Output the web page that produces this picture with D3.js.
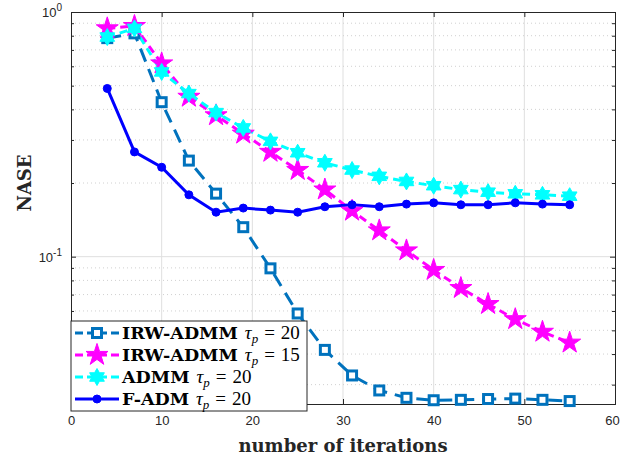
<!DOCTYPE html>
<html lang="en">
<head>
  <meta charset="utf-8">
  <title>NASE vs iterations</title>
  <script src="https://d3js.org/d3.v7.min.js"></script>
  <style>
    body { margin: 0; background: #fff; }
    .tick text { font-family: "Liberation Sans", Arial, sans-serif; font-size: 13px; fill: #262626; }
    .lbl { font-family: "DejaVu Serif", "Liberation Serif", serif; font-weight: bold; fill: #262626; }
    .leg { font-family: "Liberation Serif", serif; font-size: 19px; fill: #000; }
  </style>
</head>
<body>
<div id="container"></div>
<script>
  var w = 621, h = 457;
  var margin = {top: 12, right: 6, bottom: 53, left: 71};

  // data
  var iters = [4, 7, 10, 13, 16, 19, 22, 25, 28, 31, 34, 37, 40, 43, 46, 49, 52, 55];
  var irw20 = [0.782, 0.818, 0.428, 0.247, 0.181, 0.132, 0.0896, 0.0586, 0.0416, 0.0327, 0.0284, 0.0265, 0.0259, 0.0260, 0.0262, 0.0263, 0.0260, 0.0257];
  var irw15 = [0.857, 0.876, 0.616, 0.450, 0.378, 0.318, 0.268, 0.226, 0.188, 0.154, 0.128, 0.106, 0.0882, 0.0744, 0.0640, 0.0555, 0.0493, 0.0445];
  var admm20 = [0.79, 0.857, 0.569, 0.464, 0.388, 0.336, 0.296, 0.266, 0.242, 0.226, 0.213, 0.203, 0.195, 0.188, 0.1835, 0.1807, 0.179, 0.1767];
  var fadm20 = [0.487, 0.268, 0.232, 0.179, 0.152, 0.158, 0.155, 0.152, 0.160, 0.163, 0.160, 0.164, 0.166, 0.163, 0.163, 0.166, 0.164, 0.163];
  var xTicks = [0, 10, 20, 30, 40, 50, 60];
  var yMinor = [0.03, 0.04, 0.05, 0.06, 0.07, 0.08, 0.09, 0.2, 0.3, 0.4, 0.5, 0.6, 0.7, 0.8, 0.9];

  var series = [
    {name: "IRW-ADMM", tau: "20", values: irw20, color: "#0072BD", dash: "14,8", marker: "square"},
    {name: "IRW-ADMM", tau: "15", values: irw15, color: "#FF00FF", dash: "8,5", marker: "pentagram"},
    {name: "ADMM", tau: "20", values: admm20, color: "#00FFFF", dash: "8,5", marker: "hexagram"},
    {name: "F-ADM", tau: "20", values: fadm20, color: "#0000FF", dash: null, marker: "circle"}
  ];

  var iw = w - margin.left - margin.right, ih = h - margin.top - margin.bottom;

  var svg = d3.select("#container").append("svg").attr("width", w).attr("height", h);
  var g = svg.append("g").attr("transform", "translate(" + margin.left + "," + margin.top + ")");

  var x = d3.scaleLinear().domain([0, 60]).range([0, iw]);
  var y = d3.scaleLog().domain([0.025, 1]).range([ih, 0]);

  // grid
  g.selectAll(".gx").data(xTicks.slice(1, -1)).enter().append("line")
    .attr("x1", d => x(d)).attr("x2", d => x(d)).attr("y1", 0).attr("y2", ih)
    .attr("stroke", "#dfdfdf").attr("stroke-width", 1);
  g.selectAll(".gy").data(yMinor).enter().append("line")
    .attr("x1", 0).attr("x2", iw).attr("y1", d => y(d)).attr("y2", d => y(d))
    .attr("stroke", "#d0d0d0").attr("stroke-width", 1).attr("stroke-dasharray", "1,3");
  g.append("line").attr("x1", 0).attr("x2", iw).attr("y1", y(0.1)).attr("y2", y(0.1))
    .attr("stroke", "#dfdfdf").attr("stroke-width", 1);

  // axes
  var axCol = "#262626";
  var xAxis = g.append("g").attr("transform", "translate(0," + ih + ")")
    .call(d3.axisBottom(x).tickValues(xTicks).tickSize(-5).tickPadding(12));
  xAxis.selectAll(".tick text").filter(d => d === 60).attr("dx", -3);
  g.append("g").call(d3.axisTop(x).tickValues(xTicks).tickSize(-5).tickFormat(""));
  g.append("g").call(d3.axisLeft(y).tickValues([0.1, 1]).tickSize(-5).tickFormat(""));
  g.append("g").call(d3.axisLeft(y).tickValues(yMinor).tickSize(-3).tickFormat(""));
  g.append("g").attr("transform", "translate(" + iw + ",0)").call(d3.axisRight(y).tickValues([0.1, 1]).tickSize(-5).tickFormat(""));
  g.append("g").attr("transform", "translate(" + iw + ",0)").call(d3.axisRight(y).tickValues(yMinor).tickSize(-3).tickFormat(""));
  g.selectAll(".domain").attr("stroke", axCol);
  g.selectAll(".tick line").attr("stroke", axCol);

  // y labels as 10^k
  [[1, "0"], [0.1, "-1"]].forEach(function(p) {
    var t = g.append("text").attr("x", -9).attr("y", y(p[0]) + 5)
      .attr("text-anchor", "end")
      .style("font-family", "'Liberation Sans', Arial, sans-serif").style("font-size", "13px").style("fill", axCol);
    t.append("tspan").text("10");
    t.append("tspan").attr("dy", -6).style("font-size", "10px").text(p[1]);
  });

  // lines
  series.forEach(function(s) {
    var line = d3.line().x((d, i) => x(iters[i])).y(d => y(d));
    g.append("path").datum(s.values).attr("d", line)
      .attr("fill", "none").attr("stroke", s.color).attr("stroke-width", 3)
      .attr("stroke-dasharray", s.dash);
  });

  function hexagram(r) {
    var pts = [];
    for (var i = 0; i < 12; i++) {
      var a = Math.PI / 6 * i - Math.PI / 2;
      var rr = i % 2 === 0 ? r : r * 0.577;
      pts.push([rr * Math.cos(a), rr * Math.sin(a)]);
    }
    return "M" + pts.join("L") + "Z";
  }

  function drawMarker(sel, s) {
    if (s.marker === "square") {
      sel.append("rect").attr("x", -4.5).attr("y", -4.5).attr("width", 9).attr("height", 9)
        .attr("fill", "#fff").attr("stroke", s.color).attr("stroke-width", 3);
    } else if (s.marker === "pentagram") {
      sel.append("path").attr("d", d3.symbol().type(d3.symbolStar).size(150)())
        .attr("fill", s.color).attr("stroke", s.color).attr("stroke-width", 1);
    } else if (s.marker === "hexagram") {
      sel.append("path").attr("d", hexagram(8.5))
        .attr("fill", s.color).attr("stroke", s.color).attr("stroke-width", 1);
    } else {
      sel.append("circle").attr("r", 4).attr("fill", s.color).attr("stroke", s.color).attr("stroke-width", 1);
    }
  }

  series.forEach(function(s) {
    g.selectAll(null).data(s.values).enter().append("g")
      .attr("transform", (d, i) => "translate(" + x(iters[i]) + "," + y(d) + ")")
      .each(function() { drawMarker(d3.select(this), s); });
  });

  // axis titles
  svg.append("text").attr("class", "lbl").attr("x", 343).attr("y", 452)
    .attr("text-anchor", "middle").style("font-size", "18px").text("number of iterations");
  svg.append("text").attr("class", "lbl").attr("transform", "translate(31,183) rotate(-90)")
    .attr("text-anchor", "middle").style("font-size", "18px").text("NASE");

  // legend
  var lg = svg.append("g").attr("transform", "translate(71,321)");
  lg.append("rect").attr("width", 236).attr("height", 90).attr("fill", "#fff")
    .attr("stroke", axCol).attr("stroke-width", 1);
  series.forEach(function(s, i) {
    var yy = 12 + i * 22;
    var row = lg.append("g").attr("transform", "translate(0," + yy + ")");
    row.append("line").attr("x1", 4).attr("x2", 48).attr("y1", 0).attr("y2", 0)
      .attr("stroke", s.color).attr("stroke-width", 3)
      .attr("stroke-dasharray", s.dash ? "8,4" : null);
    var mk = row.append("g").attr("transform", "translate(26,0)");
    drawMarker(mk, s);
    var t = row.append("text").attr("class", "leg").attr("x", 51).attr("y", 6);
    t.append("tspan").style("font-family", "'DejaVu Serif', serif").style("font-weight", "bold")
      .style("font-size", "17.5px").text(s.name);
    t.append("tspan").attr("dx", 7).style("font-style", "italic").text("τ");
    t.append("tspan").attr("dy", 4).style("font-style", "italic").style("font-size", "13px").text("p");
    t.append("tspan").attr("dy", -4).attr("dx", 6).text("=");
    t.append("tspan").attr("dx", 6).text(s.tau);
  });
</script>
</body>
</html>
